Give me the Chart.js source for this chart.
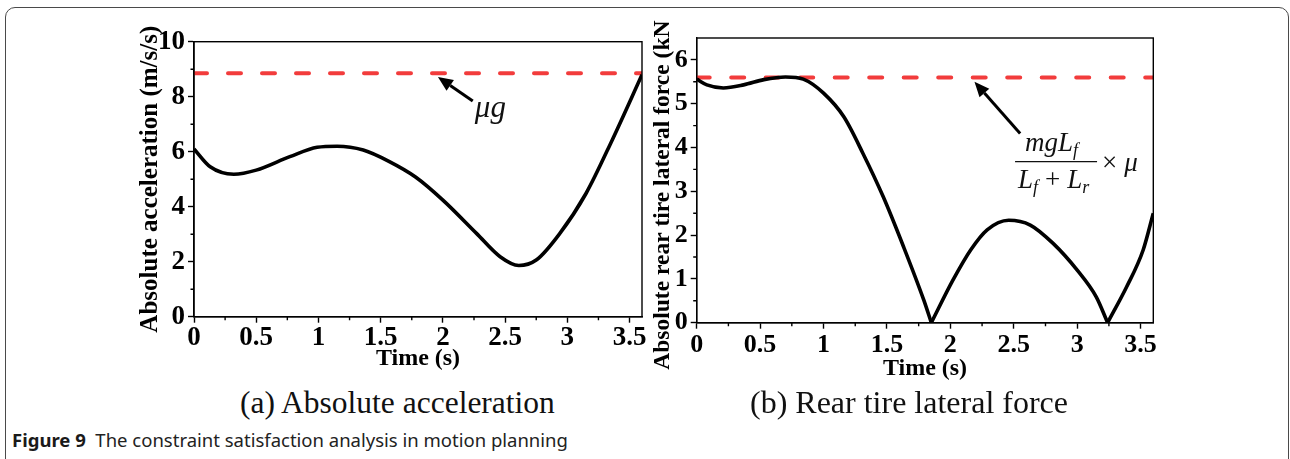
<!DOCTYPE html>
<html>
<head>
<meta charset="utf-8">
<title>Constraint satisfaction analysis</title>
<script src="https://cdn.jsdelivr.net/npm/chart.js@4.4.1/dist/chart.umd.min.js"></script>
<style>
  html, body { margin: 0; padding: 0; background: #fff; }
  body { width: 1290px; height: 459px; position: relative; overflow: hidden; }
  .frame { position: absolute; left: 5px; top: 7px; width: 1284px; height: 520px; box-sizing: border-box;
           border: 1.5px solid #4a4a4a; border-radius: 10px; }
  canvas { position: absolute; }
  #accelChart { left: 130px; top: 20px; }
  #forceChart { left: 645px; top: 20px; }
  .sub { position: absolute; font-family: "Liberation Serif", "Times New Roman", serif; color: #111;
         line-height: 1; white-space: nowrap; }
  #subA { left: 240px; top: 387px; font-size: 31.5px; }
  #subB { left: 750px; top: 386px; font-size: 32px; }
  #caption { position: absolute; left: 12px; top: 429px; font-family: "Noto Sans", "Open Sans", sans-serif;
             font-size: 18.5px; color: #222; white-space: nowrap; line-height: 1.2; }
  #caption b { color: #1a1a1a; }
</style>
</head>
<body>
<div class="frame"></div>
<canvas id="accelChart" width="520" height="365"></canvas>
<canvas id="forceChart" width="525" height="365"></canvas>
<div class="sub" id="subA">(a) Absolute acceleration</div>
<div class="sub" id="subB">(b) Rear tire lateral force</div>
<div id="caption"><b>Figure 9</b>&nbsp; The constraint satisfaction analysis in motion planning</div>

<script>
// Time axis shared by both panels (s)
const timeRange = [0, 3.6];
const timeTicks = [0, 0.5, 1, 1.5, 2, 2.5, 3, 3.5];
const timeMinor = [0.25, 0.75, 1.25, 1.75, 2.25, 2.75, 3.25];

// (a) absolute acceleration (m/s/s)
const accelTime  = [0, 0.13, 0.32, 0.50, 0.77, 0.99, 1.15, 1.36, 1.57, 1.78, 2.00, 2.27, 2.46, 2.61, 2.75, 2.94, 3.15, 3.36, 3.60];
const accelValue = [6.10, 5.45, 5.18, 5.33, 5.82, 6.16, 6.20, 6.06, 5.64, 5.08, 4.24, 3.03, 2.18, 1.86, 2.06, 3.03, 4.48, 6.42, 8.80];
const accelLimit = 8.85;          // mu * g
const accelTicks = [0, 2, 4, 6, 8, 10];
const accelMinor = [1, 3, 5, 7, 9];

// (b) absolute rear tire lateral force (kN)
const forceTime  = [0, 0.08, 0.21, 0.37, 0.53, 0.70, 0.84, 1.00, 1.16, 1.31, 1.47, 1.63, 1.79, 1.85,
                    2.02, 2.16, 2.29, 2.46, 2.63, 2.81, 3.00, 3.15, 3.24, 3.39, 3.52, 3.60];
const forceValue = [5.56, 5.43, 5.36, 5.43, 5.55, 5.61, 5.56, 5.24, 4.70, 3.87, 2.88, 1.74, 0.52, 0,
                    0.97, 1.66, 2.12, 2.34, 2.23, 1.81, 1.20, 0.59, 0, 0.82, 1.66, 2.50];
const forceLimit = 5.60;          // m g L_f / (L_f + L_r) * mu
const forceTicks = [0, 1, 2, 3, 4, 5, 6];
const forceMinor = [0.5, 1.5, 2.5, 3.5, 4.5, 5.5];

const SERIF = '"Liberation Serif", "Times New Roman", serif';
const RED = '#f23c3c';

const toPoints = (xs, ys) => xs.map((x, i) => ({ x, y: ys[i] }));

// The absolute value has kinks where the signed force crosses zero:
// break the curve there so each arc is smoothed on its own.
function splitAtZeros(xs, ys) {
  const arcs = [];
  let cur = [];
  xs.forEach((x, i) => {
    cur.push({ x, y: ys[i] });
    if (ys[i] === 0 && i > 0 && i < xs.length - 1) {
      arcs.push(cur);
      cur = [{ x, y: ys[i] }];
    }
  });
  arcs.push(cur);
  return arcs;
}

// Box around the plotting area plus the short minor tick marks
function frameAndMinor(minorX, minorY) {
  return {
    id: 'frameAndMinor',
    afterDraw(chart) {
      const { ctx, chartArea: a, scales: { x, y } } = chart;
      ctx.save();
      ctx.strokeStyle = '#000';
      ctx.lineWidth = 1.4;
      ctx.strokeRect(a.left, a.top, a.right - a.left, a.bottom - a.top);
      ctx.beginPath();
      minorX.forEach(v => { const p = x.getPixelForValue(v); ctx.moveTo(p, a.bottom); ctx.lineTo(p, a.bottom + 3.5); });
      minorY.forEach(v => { const p = y.getPixelForValue(v); ctx.moveTo(a.left, p); ctx.lineTo(a.left - 3.5, p); });
      ctx.stroke();
      ctx.restore();
    }
  };
}

function drawArrow(ctx, x0, y0, x1, y1) {
  const ang = Math.atan2(y1 - y0, x1 - x0);
  const headLen = 15, headHalf = 6.5;
  const bx = x1 - headLen * Math.cos(ang), by = y1 - headLen * Math.sin(ang);
  ctx.save();
  ctx.strokeStyle = '#000';
  ctx.fillStyle = '#000';
  ctx.lineWidth = 3;
  ctx.beginPath();
  ctx.moveTo(x0, y0);
  ctx.lineTo(bx, by);
  ctx.stroke();
  ctx.beginPath();
  ctx.moveTo(x1, y1);
  ctx.lineTo(bx + headHalf * Math.sin(ang), by - headHalf * Math.cos(ang));
  ctx.lineTo(bx - headHalf * Math.sin(ang), by + headHalf * Math.cos(ang));
  ctx.closePath();
  ctx.fill();
  ctx.restore();
}

function baseOptions(o) {
  const tickFont = { family: SERIF, size: o.tickSize, weight: 'bold', lineHeight: 1 };
  return {
    responsive: false,
    animation: false,
    devicePixelRatio: 1,
    layout: { padding: o.padding },
    plugins: { legend: { display: false }, tooltip: { enabled: false } },
    elements: { point: { radius: 0 } },
    scales: {
      x: {
        type: 'linear', min: timeRange[0], max: timeRange[1],
        afterBuildTicks: s => { s.ticks = timeTicks.map(v => ({ value: v })); },
        afterFit: s => { s.height = o.xHeight; },
        ticks: { font: tickFont, color: '#000', padding: o.xTickPad, maxRotation: 0, autoSkip: false,
                 callback: v => String(v) },
        grid: { drawOnChartArea: false, drawTicks: true, tickLength: 6, tickWidth: 1.4, tickColor: '#000' },
        border: { display: true, color: '#000', width: 1.4 },
        title: { display: true, text: 'Time (s)', color: '#000',
                 font: { family: SERIF, size: 24, weight: 'bold' }, padding: { top: 0, bottom: o.xTitlePad } }
      },
      y: {
        type: 'linear', min: o.yMin, max: o.yMax,
        afterBuildTicks: s => { s.ticks = o.yTicks.map(v => ({ value: v })); },
        afterFit: s => { s.width = o.yWidth; },
        ticks: { font: tickFont, color: '#000', padding: 3, autoSkip: false, callback: v => String(v) },
        grid: { drawOnChartArea: false, drawTicks: true, tickLength: 6, tickWidth: 1.4, tickColor: '#000' },
        border: { display: true, color: '#000', width: 1.4 },
        title: o.yTitle
      }
    }
  };
}

// ---------- (a) absolute acceleration ----------
new Chart(document.getElementById('accelChart'), {
  type: 'line',
  data: {
    datasets: [
      { data: toPoints(accelTime, accelValue), borderColor: '#000', borderWidth: 3.6,
        cubicInterpolationMode: 'monotone', fill: false },
      { data: toPoints(timeRange, [accelLimit, accelLimit]), borderColor: RED, borderWidth: 4,
        borderDash: [13, 21], borderCapStyle: 'round', fill: false }
    ]
  },
  options: baseOptions({
    tickSize: 27, padding: { top: 21.7, right: 8, left: 0, bottom: 0 },
    xHeight: 68.3, yWidth: 64, xTitlePad: 12, xTickPad: 2,
    yMin: 0, yMax: 10, yTicks: accelTicks,
    yTitle: { display: true, text: 'Absolute acceleration (m/s/s)', color: '#000',
              font: { family: SERIF, size: 25, weight: 'bold' }, padding: { top: 6, bottom: 0 } }
  }),
  plugins: [frameAndMinor(timeMinor, accelMinor), {
    id: 'muLabel',
    afterDatasetsDraw(chart) {
      const { ctx, scales: { x, y } } = chart;
      drawArrow(ctx, x.getPixelForValue(2.24), y.getPixelForValue(7.84),
                     x.getPixelForValue(1.96), y.getPixelForValue(8.72));
      ctx.save();
      ctx.fillStyle = '#111';
      ctx.font = 'italic 31px ' + SERIF;
      ctx.textBaseline = 'alphabetic';
      ctx.fillText('\u03BCg', x.getPixelForValue(2.257), y.getPixelForValue(7.25));
      ctx.restore();
    }
  }]
});

// ---------- (b) rear tire lateral force ----------
new Chart(document.getElementById('forceChart'), {
  type: 'line',
  data: {
    datasets: [
      ...splitAtZeros(forceTime, forceValue).map(arc => ({
        data: arc, borderColor: '#000', borderWidth: 3.6, borderJoinStyle: 'miter',
        cubicInterpolationMode: 'monotone', fill: false })),
      { data: toPoints(timeRange, [forceLimit, forceLimit]), borderColor: RED, borderWidth: 4,
        borderDash: [13, 21.5], borderCapStyle: 'round', fill: false }
    ]
  },
  options: baseOptions({
    tickSize: 26, padding: { top: 18, right: 16.7, left: 0, bottom: 0 },
    xHeight: 62.3, yWidth: 51.7, xTitlePad: 2, xTickPad: 4,
    yMin: 0, yMax: 6.5, yTicks: forceTicks,
    yTitle: { display: false }
  }),
  plugins: [frameAndMinor(timeMinor, forceMinor), {
    id: 'forceLabels',
    afterDatasetsDraw(chart) {
      const { ctx, chartArea: a, scales: { x, y } } = chart;
      drawArrow(ctx, x.getPixelForValue(2.55), y.getPixelForValue(4.32),
                     x.getPixelForValue(2.19), y.getPixelForValue(5.50));

      // fraction m g L_f / (L_f + L_r) x mu, anchored at the left end of the bar
      const bx = x.getPixelForValue(2.51), by = y.getPixelForValue(3.676);
      const it = 'italic 27px ' + SERIF, itSub = 'italic 18px ' + SERIF, rm = '27px ' + SERIF;
      ctx.save();
      ctx.fillStyle = '#111';
      ctx.strokeStyle = '#111';
      ctx.textBaseline = 'alphabetic';
      const run = (parts, x0, base) => {
        let cx = x0;
        parts.forEach(([txt, font, dy, gap]) => {
          ctx.font = font;
          ctx.fillText(txt, cx, base + (dy || 0));
          cx += ctx.measureText(txt).width + (gap || 0);
        });
        return cx;
      };
      run([['mgL', it], ['f', itSub, 5]], bx + 10, by - 11);
      ctx.lineWidth = 1.3;
      ctx.beginPath();
      ctx.moveTo(bx, by);
      ctx.lineTo(bx + 82, by);
      ctx.stroke();
      run([['L', it], ['f', itSub, 5, 7], ['+', rm, 0, 7], ['L', it], ['r', itSub, 5]], bx + 3, by + 26);
      run([['\u00D7', rm, 0, 7], ['\u03BC', it]], bx + 87, by + 9);

      // vertical axis title
      ctx.save();
      ctx.translate(a.left - 34, a.bottom + 47);
      ctx.rotate(-Math.PI / 2);
      ctx.font = 'bold 23.5px ' + SERIF;
      ctx.fillStyle = '#000';
      ctx.textAlign = 'left';
      ctx.textBaseline = 'middle';
      ctx.fillText('Absolute rear tire lateral force (kN)', 0, 0);
      ctx.restore();
      ctx.restore();
    }
  }]
});
</script>
</body>
</html>
